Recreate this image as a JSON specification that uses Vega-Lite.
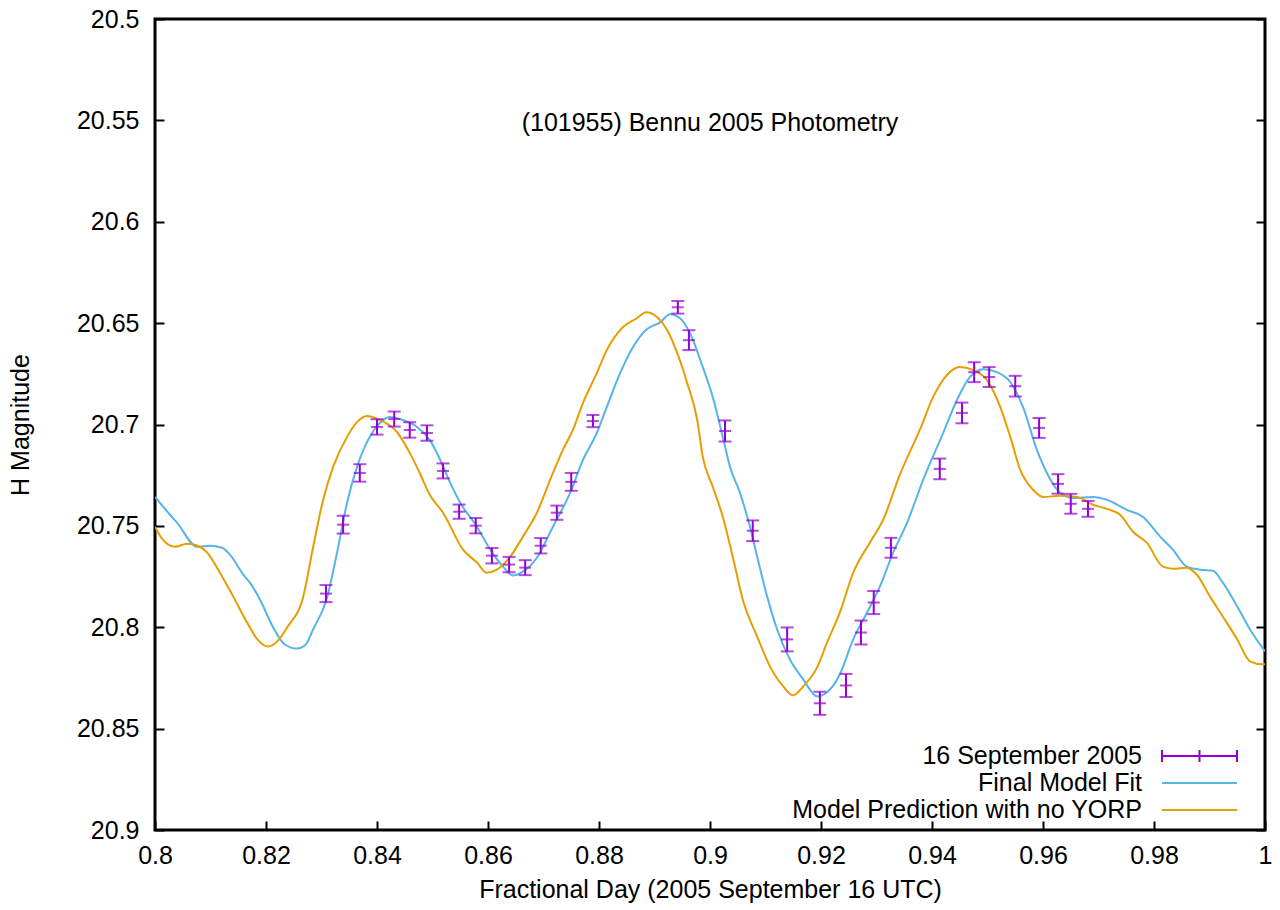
{
"$schema": "https://vega.github.io/schema/vega-lite/v6.json",
"width": 1110, "height": 811,
"autosize": "none",
"padding": {"left": 155, "top": 19, "right": 15, "bottom": 80},
"background": "white",
"config": {"view": {"stroke": "black", "strokeWidth": 3}, "font": "Liberation Sans"},
"title": {"text": "(101955) Bennu 2005 Photometry", "anchor": "middle", "frame": "group", "offset": -149, "baseline": "alphabetic", "fontSize": 25, "fontWeight": "normal", "font": "Liberation Sans", "color": "black"},
"datasets": {
"curves": [
{"series":"Final Model Fit","day":0.8000,"mag":20.7357},{"series":"Final Model Fit","day":0.8027,"mag":20.7445},{"series":"Final Model Fit","day":0.8040,"mag":20.7485},{"series":"Final Model Fit","day":0.8076,"mag":20.7603},{"series":"Final Model Fit","day":0.8099,"mag":20.7598},{"series":"Final Model Fit","day":0.8121,"mag":20.7608},{"series":"Final Model Fit","day":0.8135,"mag":20.7642},{"series":"Final Model Fit","day":0.8159,"mag":20.7740},{"series":"Final Model Fit","day":0.8171,"mag":20.7780},{"series":"Final Model Fit","day":0.8189,"mag":20.7863},{"series":"Final Model Fit","day":0.8213,"mag":20.8001},{"series":"Final Model Fit","day":0.8234,"mag":20.8085},{"series":"Final Model Fit","day":0.8256,"mag":20.8105},{"series":"Final Model Fit","day":0.8270,"mag":20.8090},{"series":"Final Model Fit","day":0.8285,"mag":20.8010},{"series":"Final Model Fit","day":0.8310,"mag":20.7854},{"series":"Final Model Fit","day":0.8328,"mag":20.7632},{"series":"Final Model Fit","day":0.8346,"mag":20.7386},{"series":"Final Model Fit","day":0.8364,"mag":20.7209},{"series":"Final Model Fit","day":0.8387,"mag":20.7061},{"series":"Final Model Fit","day":0.8405,"mag":20.6993},{"series":"Final Model Fit","day":0.8423,"mag":20.6963},{"series":"Final Model Fit","day":0.8447,"mag":20.6978},{"series":"Final Model Fit","day":0.8472,"mag":20.7012},{"series":"Final Model Fit","day":0.8495,"mag":20.7076},{"series":"Final Model Fit","day":0.8514,"mag":20.7175},{"series":"Final Model Fit","day":0.8532,"mag":20.7288},{"series":"Final Model Fit","day":0.8550,"mag":20.7386},{"series":"Final Model Fit","day":0.8580,"mag":20.7504},{"series":"Final Model Fit","day":0.8604,"mag":20.7617},{"series":"Final Model Fit","day":0.8627,"mag":20.7701},{"series":"Final Model Fit","day":0.8645,"mag":20.7745},{"series":"Final Model Fit","day":0.8663,"mag":20.7726},{"series":"Final Model Fit","day":0.8688,"mag":20.7657},{"series":"Final Model Fit","day":0.8717,"mag":20.7504},{"series":"Final Model Fit","day":0.8748,"mag":20.7337},{"series":"Final Model Fit","day":0.8771,"mag":20.7175},{"series":"Final Model Fit","day":0.8796,"mag":20.7042},{"series":"Final Model Fit","day":0.8814,"mag":20.6914},{"series":"Final Model Fit","day":0.8838,"mag":20.6747},{"series":"Final Model Fit","day":0.8861,"mag":20.6619},{"series":"Final Model Fit","day":0.8886,"mag":20.6530},{"series":"Final Model Fit","day":0.8910,"mag":20.6496},{"series":"Final Model Fit","day":0.8928,"mag":20.6456},{"series":"Final Model Fit","day":0.8946,"mag":20.6476},{"series":"Final Model Fit","day":0.8964,"mag":20.6550},{"series":"Final Model Fit","day":0.8987,"mag":20.6717},{"series":"Final Model Fit","day":0.9005,"mag":20.6865},{"series":"Final Model Fit","day":0.9023,"mag":20.7061},{"series":"Final Model Fit","day":0.9036,"mag":20.7209},{"series":"Final Model Fit","day":0.9054,"mag":20.7337},{"series":"Final Model Fit","day":0.9072,"mag":20.7504},{"series":"Final Model Fit","day":0.9085,"mag":20.7652},{"series":"Final Model Fit","day":0.9103,"mag":20.7849},{"series":"Final Model Fit","day":0.9121,"mag":20.8011},{"series":"Final Model Fit","day":0.9144,"mag":20.8159},{"series":"Final Model Fit","day":0.9168,"mag":20.8257},{"series":"Final Model Fit","day":0.9193,"mag":20.8341},{"series":"Final Model Fit","day":0.9211,"mag":20.8321},{"series":"Final Model Fit","day":0.9234,"mag":20.8232},{"series":"Final Model Fit","day":0.9258,"mag":20.8060},{"series":"Final Model Fit","day":0.9283,"mag":20.7927},{"series":"Final Model Fit","day":0.9306,"mag":20.7800},{"series":"Final Model Fit","day":0.9330,"mag":20.7632},{"series":"Final Model Fit","day":0.9355,"mag":20.7485},{"series":"Final Model Fit","day":0.9384,"mag":20.7273},{"series":"Final Model Fit","day":0.9420,"mag":20.7042},{"series":"Final Model Fit","day":0.9445,"mag":20.6879},{"series":"Final Model Fit","day":0.9468,"mag":20.6766},{"series":"Final Model Fit","day":0.9492,"mag":20.6727},{"series":"Final Model Fit","day":0.9517,"mag":20.6742},{"series":"Final Model Fit","day":0.9541,"mag":20.6791},{"series":"Final Model Fit","day":0.9564,"mag":20.6914},{"series":"Final Model Fit","day":0.9589,"mag":20.7125},{"series":"Final Model Fit","day":0.9607,"mag":20.7239},{"series":"Final Model Fit","day":0.9631,"mag":20.7337},{"series":"Final Model Fit","day":0.9654,"mag":20.7362},{"series":"Final Model Fit","day":0.9690,"mag":20.7357},{"series":"Final Model Fit","day":0.9715,"mag":20.7371},{"series":"Final Model Fit","day":0.9751,"mag":20.7421},{"series":"Final Model Fit","day":0.9780,"mag":20.7455},{"series":"Final Model Fit","day":0.9811,"mag":20.7553},{"series":"Final Model Fit","day":0.9834,"mag":20.7617},{"series":"Final Model Fit","day":0.9859,"mag":20.7701},{"series":"Final Model Fit","day":0.9883,"mag":20.7716},{"series":"Final Model Fit","day":0.9906,"mag":20.7721},{"series":"Final Model Fit","day":0.9924,"mag":20.7780},{"series":"Final Model Fit","day":0.9950,"mag":20.7898},{"series":"Final Model Fit","day":0.9973,"mag":20.8011},{"series":"Final Model Fit","day":1.0000,"mag":20.8119},
{"series":"Model Prediction with no YORP","day":0.8000,"mag":20.7504},{"series":"Model Prediction with no YORP","day":0.8014,"mag":20.7568},{"series":"Model Prediction with no YORP","day":0.8036,"mag":20.7603},{"series":"Model Prediction with no YORP","day":0.8058,"mag":20.7588},{"series":"Model Prediction with no YORP","day":0.8077,"mag":20.7598},{"series":"Model Prediction with no YORP","day":0.8094,"mag":20.7632},{"series":"Model Prediction with no YORP","day":0.8117,"mag":20.7731},{"series":"Model Prediction with no YORP","day":0.8141,"mag":20.7849},{"series":"Model Prediction with no YORP","day":0.8166,"mag":20.7977},{"series":"Model Prediction with no YORP","day":0.8186,"mag":20.8065},{"series":"Model Prediction with no YORP","day":0.8204,"mag":20.8095},{"series":"Model Prediction with no YORP","day":0.8222,"mag":20.8065},{"series":"Model Prediction with no YORP","day":0.8238,"mag":20.8001},{"series":"Model Prediction with no YORP","day":0.8267,"mag":20.7849},{"series":"Model Prediction with no YORP","day":0.8285,"mag":20.7603},{"series":"Model Prediction with no YORP","day":0.8303,"mag":20.7371},{"series":"Model Prediction with no YORP","day":0.8321,"mag":20.7209},{"series":"Model Prediction with no YORP","day":0.8346,"mag":20.7061},{"series":"Model Prediction with no YORP","day":0.8364,"mag":20.6988},{"series":"Model Prediction with no YORP","day":0.8382,"mag":20.6958},{"series":"Model Prediction with no YORP","day":0.8405,"mag":20.6978},{"series":"Model Prediction with no YORP","day":0.8436,"mag":20.7037},{"series":"Model Prediction with no YORP","day":0.8459,"mag":20.7140},{"series":"Model Prediction with no YORP","day":0.8477,"mag":20.7239},{"series":"Model Prediction with no YORP","day":0.8495,"mag":20.7347},{"series":"Model Prediction with no YORP","day":0.8519,"mag":20.7435},{"series":"Model Prediction with no YORP","day":0.8555,"mag":20.7617},{"series":"Model Prediction with no YORP","day":0.8580,"mag":20.7681},{"series":"Model Prediction with no YORP","day":0.8598,"mag":20.7731},{"series":"Model Prediction with no YORP","day":0.8616,"mag":20.7716},{"series":"Model Prediction with no YORP","day":0.8640,"mag":20.7652},{"series":"Model Prediction with no YORP","day":0.8663,"mag":20.7553},{"series":"Model Prediction with no YORP","day":0.8688,"mag":20.7435},{"series":"Model Prediction with no YORP","day":0.8717,"mag":20.7239},{"series":"Model Prediction with no YORP","day":0.8735,"mag":20.7125},{"series":"Model Prediction with no YORP","day":0.8753,"mag":20.7027},{"series":"Model Prediction with no YORP","day":0.8771,"mag":20.6894},{"series":"Model Prediction with no YORP","day":0.8796,"mag":20.6747},{"series":"Model Prediction with no YORP","day":0.8814,"mag":20.6633},{"series":"Model Prediction with no YORP","day":0.8843,"mag":20.6520},{"series":"Model Prediction with no YORP","day":0.8868,"mag":20.6476},{"series":"Model Prediction with no YORP","day":0.8885,"mag":20.6446},{"series":"Model Prediction with no YORP","day":0.8905,"mag":20.6471},{"series":"Model Prediction with no YORP","day":0.8923,"mag":20.6535},{"series":"Model Prediction with no YORP","day":0.8941,"mag":20.6648},{"series":"Model Prediction with no YORP","day":0.8959,"mag":20.6796},{"series":"Model Prediction with no YORP","day":0.8977,"mag":20.6978},{"series":"Model Prediction with no YORP","day":0.8987,"mag":20.7160},{"series":"Model Prediction with no YORP","day":0.9005,"mag":20.7307},{"series":"Model Prediction with no YORP","day":0.9023,"mag":20.7455},{"series":"Model Prediction with no YORP","day":0.9041,"mag":20.7652},{"series":"Model Prediction with no YORP","day":0.9059,"mag":20.7863},{"series":"Model Prediction with no YORP","day":0.9085,"mag":20.8046},{"series":"Model Prediction with no YORP","day":0.9108,"mag":20.8193},{"series":"Model Prediction with no YORP","day":0.9132,"mag":20.8292},{"series":"Model Prediction with no YORP","day":0.9150,"mag":20.8336},{"series":"Model Prediction with no YORP","day":0.9168,"mag":20.8292},{"series":"Model Prediction with no YORP","day":0.9193,"mag":20.8198},{"series":"Model Prediction with no YORP","day":0.9211,"mag":20.8075},{"series":"Model Prediction with no YORP","day":0.9234,"mag":20.7927},{"series":"Model Prediction with no YORP","day":0.9258,"mag":20.7731},{"series":"Model Prediction with no YORP","day":0.9288,"mag":20.7583},{"series":"Model Prediction with no YORP","day":0.9312,"mag":20.7470},{"series":"Model Prediction with no YORP","day":0.9342,"mag":20.7248},{"series":"Model Prediction with no YORP","day":0.9378,"mag":20.7027},{"series":"Model Prediction with no YORP","day":0.9402,"mag":20.6865},{"series":"Model Prediction with no YORP","day":0.9427,"mag":20.6756},{"series":"Model Prediction with no YORP","day":0.9450,"mag":20.6717},{"series":"Model Prediction with no YORP","day":0.9474,"mag":20.6732},{"series":"Model Prediction with no YORP","day":0.9499,"mag":20.6781},{"series":"Model Prediction with no YORP","day":0.9523,"mag":20.6914},{"series":"Model Prediction with no YORP","day":0.9541,"mag":20.7061},{"series":"Model Prediction with no YORP","day":0.9559,"mag":20.7224},{"series":"Model Prediction with no YORP","day":0.9582,"mag":20.7322},{"series":"Model Prediction with no YORP","day":0.9600,"mag":20.7357},{"series":"Model Prediction with no YORP","day":0.9631,"mag":20.7352},{"series":"Model Prediction with no YORP","day":0.9661,"mag":20.7357},{"series":"Model Prediction with no YORP","day":0.9690,"mag":20.7396},{"series":"Model Prediction with no YORP","day":0.9715,"mag":20.7416},{"series":"Model Prediction with no YORP","day":0.9739,"mag":20.7445},{"series":"Model Prediction with no YORP","day":0.9762,"mag":20.7529},{"series":"Model Prediction with no YORP","day":0.9787,"mag":20.7583},{"series":"Model Prediction with no YORP","day":0.9816,"mag":20.7701},{"series":"Model Prediction with no YORP","day":0.9834,"mag":20.7711},{"series":"Model Prediction with no YORP","day":0.9859,"mag":20.7706},{"series":"Model Prediction with no YORP","day":0.9877,"mag":20.7740},{"series":"Model Prediction with no YORP","day":0.9901,"mag":20.7849},{"series":"Model Prediction with no YORP","day":0.9924,"mag":20.7947},{"series":"Model Prediction with no YORP","day":0.9950,"mag":20.8060},{"series":"Model Prediction with no YORP","day":0.9973,"mag":20.8168},{"series":"Model Prediction with no YORP","day":0.9995,"mag":20.8183},{"series":"Model Prediction with no YORP","day":1.0000,"mag":20.8183}
],
"obs": [
{"series":"16 September 2005","day":0.8308,"mag":20.7834,"err":0.0042},{"series":"16 September 2005","day":0.8339,"mag":20.7494,"err":0.0044},{"series":"16 September 2005","day":0.8369,"mag":20.7239,"err":0.0043},{"series":"16 September 2005","day":0.8400,"mag":20.7012,"err":0.0038},{"series":"16 September 2005","day":0.8431,"mag":20.6973,"err":0.0037},{"series":"16 September 2005","day":0.8459,"mag":20.7027,"err":0.0038},{"series":"16 September 2005","day":0.8490,"mag":20.7042,"err":0.0038},{"series":"16 September 2005","day":0.8519,"mag":20.7229,"err":0.0037},{"series":"16 September 2005","day":0.8548,"mag":20.7430,"err":0.0035},{"series":"16 September 2005","day":0.8578,"mag":20.7499,"err":0.0038},{"series":"16 September 2005","day":0.8607,"mag":20.7647,"err":0.0038},{"series":"16 September 2005","day":0.8638,"mag":20.7691,"err":0.0038},{"series":"16 September 2005","day":0.8667,"mag":20.7706,"err":0.0037},{"series":"16 September 2005","day":0.8695,"mag":20.7598,"err":0.0038},{"series":"16 September 2005","day":0.8724,"mag":20.7435,"err":0.0035},{"series":"16 September 2005","day":0.8750,"mag":20.7283,"err":0.0044},{"series":"16 September 2005","day":0.8789,"mag":20.6983,"err":0.0030},{"series":"16 September 2005","day":0.8942,"mag":20.6422,"err":0.0031},{"series":"16 September 2005","day":0.8962,"mag":20.6584,"err":0.0049},{"series":"16 September 2005","day":0.9027,"mag":20.7032,"err":0.0052},{"series":"16 September 2005","day":0.9077,"mag":20.7524,"err":0.0051},{"series":"16 September 2005","day":0.9139,"mag":20.8060,"err":0.0059},{"series":"16 September 2005","day":0.9198,"mag":20.8375,"err":0.0057},{"series":"16 September 2005","day":0.9245,"mag":20.8287,"err":0.0057},{"series":"16 September 2005","day":0.9272,"mag":20.8026,"err":0.0059},{"series":"16 September 2005","day":0.9295,"mag":20.7878,"err":0.0057},{"series":"16 September 2005","day":0.9326,"mag":20.7608,"err":0.0049},{"series":"16 September 2005","day":0.9414,"mag":20.7219,"err":0.0051},{"series":"16 September 2005","day":0.9454,"mag":20.6943,"err":0.0051},{"series":"16 September 2005","day":0.9476,"mag":20.6742,"err":0.0049},{"series":"16 September 2005","day":0.9503,"mag":20.6766,"err":0.0049},{"series":"16 September 2005","day":0.9550,"mag":20.6811,"err":0.0051},{"series":"16 September 2005","day":0.9593,"mag":20.7017,"err":0.0049},{"series":"16 September 2005","day":0.9627,"mag":20.7293,"err":0.0048},{"series":"16 September 2005","day":0.9650,"mag":20.7391,"err":0.0049},{"series":"16 September 2005","day":0.9681,"mag":20.7416,"err":0.0039}
]
},
"layer": [
{
"data": {"name": "curves"},
"mark": {"type": "line", "strokeWidth": 2, "interpolate": "monotone", "clip": true},
"encoding": {
"x": {"field": "day", "type": "quantitative", "scale": {"domain": [0.8, 1.0], "nice": false, "zero": false},
 "axis": {"orient": "bottom", "values": [0.8,0.82,0.84,0.86,0.88,0.9,0.92,0.94,0.96,0.98,1.0], "format": "~g", "title": "Fractional Day (2005 September 16 UTC)", "tickSize": -9, "tickWidth": 2, "tickColor": "black", "domain": false, "grid": false, "labelFlush": false, "labelOverlap": false, "labelFontSize": 25, "labelColor": "black", "labelFont": "Liberation Sans", "labelPadding": 22, "titleFont": "Liberation Sans", "titleFontSize": 25, "titleFontWeight": "normal", "titleColor": "black", "titlePadding": 9}},
"y": {"field": "mag", "type": "quantitative", "scale": {"domain": [20.5, 20.9], "reverse": true, "nice": false, "zero": false},
 "axis": {"orient": "left", "values": [20.5,20.55,20.6,20.65,20.7,20.75,20.8,20.85,20.9], "format": "~g", "title": "H Magnitude", "tickSize": -9, "tickWidth": 2, "tickColor": "black", "domain": false, "grid": false, "labelFlush": false, "labelOverlap": false, "labelFontSize": 25, "labelColor": "black", "labelFont": "Liberation Sans", "labelPadding": 25, "titleFont": "Liberation Sans", "titleFontSize": 25, "titleFontWeight": "normal", "titleColor": "black", "titlePadding": 43}},
"color": {"field": "series", "type": "nominal",
 "scale": {"domain": ["16 September 2005", "Final Model Fit", "Model Prediction with no YORP"], "range": ["#9400d3", "#56b4e9", "#e69f00"]},
 "legend": {"title": null, "orient": "none", "legendX": 1032, "legendY": 724.5, "symbolType": "M-5,0H5", "symbolSize": 225, "symbolStrokeWidth": 2, "labelAlign": "right", "labelOffset": -70, "labelFontSize": 25, "labelFont": "Liberation Sans", "labelColor": "black", "labelLimit": 800, "rowPadding": 1, "padding": 0,
  "encode": {"symbols": {"update": {
   "shape": [{"test": "datum.value === '16 September 2005'", "value": "M-5,0H5M-5,-0.8V0.8M0,-0.8V0.8M5,-0.8V0.8"}, {"value": "M-5,0H5"}],
   "fill": {"value": "transparent"},
   "stroke": {"scale": "color", "field": "value"},
   "strokeWidth": {"value": 2}}}}}}
}
},
{
"data": {"name": "obs"},
"mark": {"type": "errorbar", "ticks": {"size": 13}, "thickness": 2},
"encoding": {
"x": {"field": "day", "type": "quantitative", "axis": null},
"y": {"field": "mag", "type": "quantitative", "axis": null},
"yError": {"field": "err"},
"color": {"field": "series", "type": "nominal"}
}
},
{
"data": {"name": "obs"},
"mark": {"type": "tick", "orient": "horizontal", "size": 12, "thickness": 2, "color": "#9400d3"},
"encoding": {
"x": {"field": "day", "type": "quantitative", "axis": null},
"y": {"field": "mag", "type": "quantitative",
 "axis": {"orient": "right", "values": [20.5,20.55,20.6,20.65,20.7,20.75,20.8,20.85,20.9], "labels": false, "title": null, "tickSize": -9, "tickWidth": 2, "tickColor": "black", "domain": false, "grid": false}}
}
}
],
"resolve": {"axis": {"x": "independent", "y": "independent"}}
}
